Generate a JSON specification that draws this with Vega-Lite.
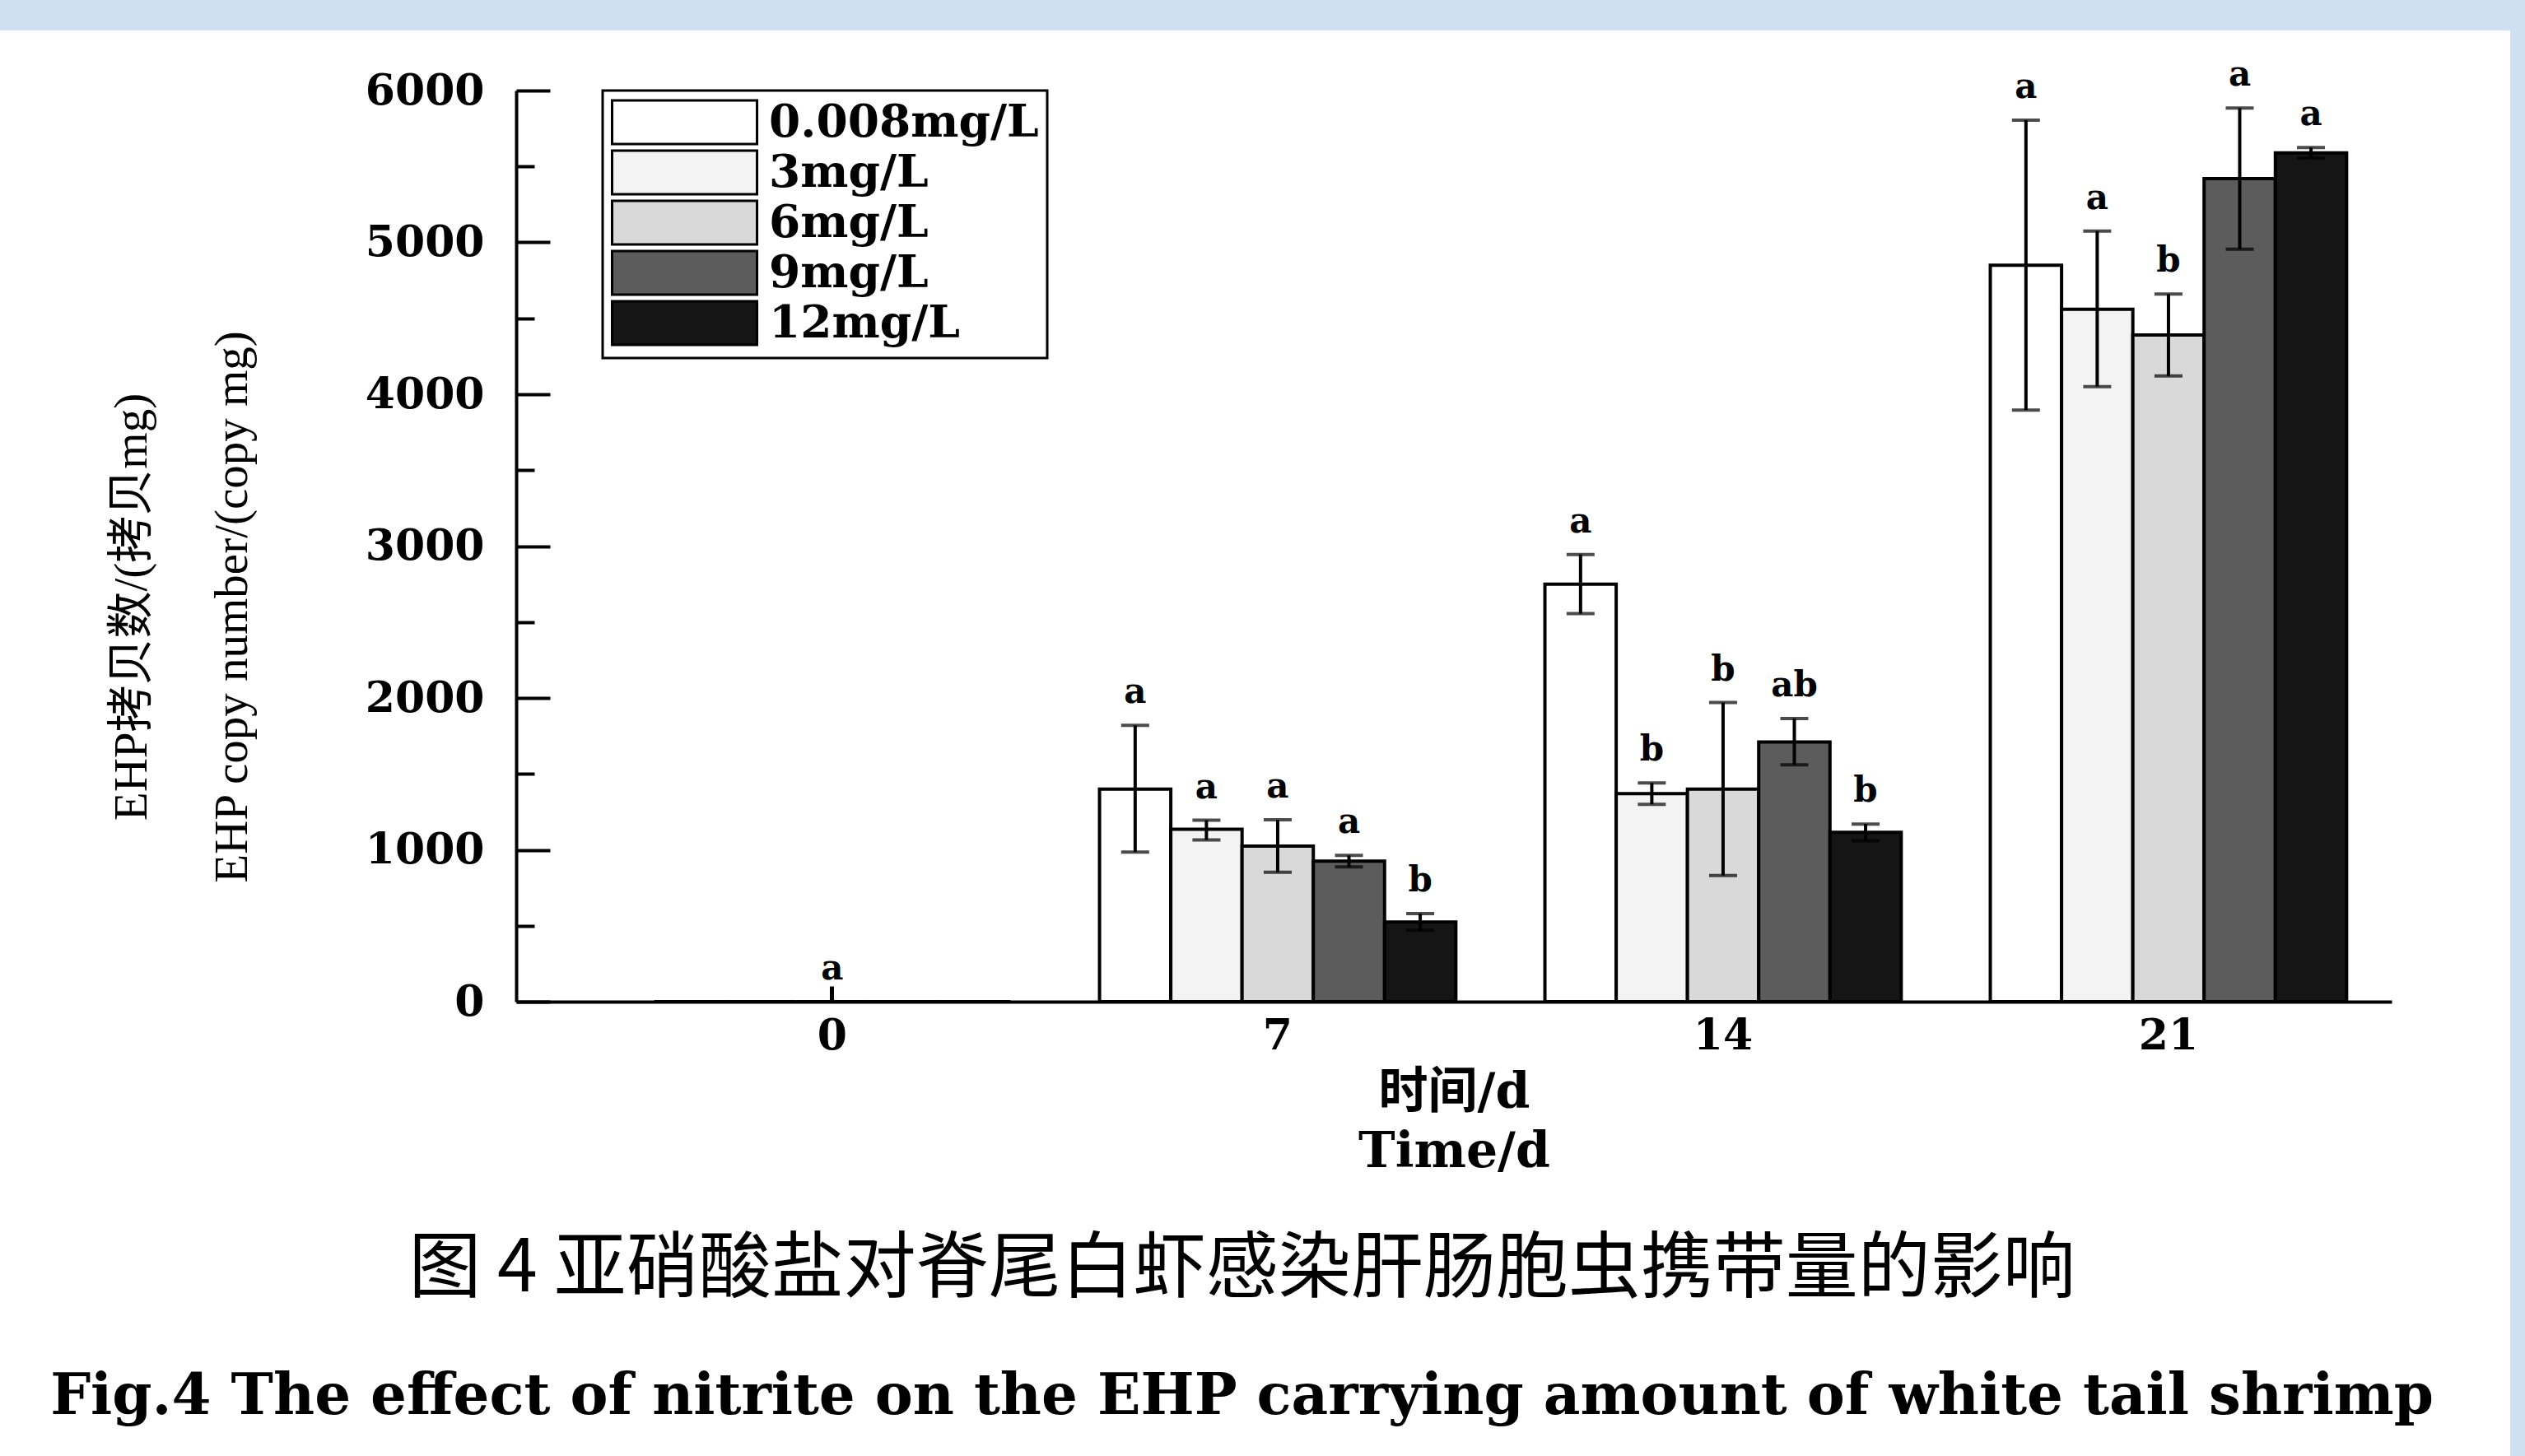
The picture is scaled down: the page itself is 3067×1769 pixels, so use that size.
{
  "$schema": "https://vega.github.io/schema/vega-lite/v6.json",
  "autosize": "none",
  "width": 3049,
  "height": 1732,
  "padding": {"top": 37, "left": 0, "right": 18, "bottom": 0},
  "background": "#cee0f1",
  "config": {
    "view": {"fill": "#ffffff", "stroke": null},
    "axis": {
      "grid": false,
      "domainColor": "#000000",
      "domainWidth": 4,
      "tickColor": "#000000",
      "labelColor": "#000000",
      "titleColor": "#000000",
      "labelFont": "DejaVu Serif",
      "labelFontWeight": "bold",
      "labelFontSize": 52
    },
    "legend": {"strokeWidth": 3}
  },
  "title": {
    "text": "图 4 亚硝酸盐对脊尾白虾感染肝肠胞虫携带量的影响",
    "subtitle": "Fig.4 The effect of nitrite on the EHP carrying amount of white tail shrimp",
    "orient": "bottom",
    "anchor": "middle",
    "frame": "group",
    "offset": -270,
    "dx": -16,
    "font": "Noto Sans CJK SC",
    "fontSize": 88,
    "fontWeight": "normal",
    "color": "#000000",
    "subtitleFont": "DejaVu Serif",
    "subtitleFontWeight": "bold",
    "subtitleFontSize": 69,
    "subtitleColor": "#000000",
    "subtitlePadding": 76
  },
  "data": {
    "values": [
      {"day": 0, "conc": "0.008mg/L", "value": 0, "lower": 0, "upper": 0, "label": ""},
      {"day": 0, "conc": "3mg/L", "value": 0, "lower": 0, "upper": 0, "label": ""},
      {"day": 0, "conc": "6mg/L", "value": 0, "lower": 0, "upper": 0, "label": "a"},
      {"day": 0, "conc": "9mg/L", "value": 0, "lower": 0, "upper": 0, "label": ""},
      {"day": 0, "conc": "12mg/L", "value": 0, "lower": 0, "upper": 0, "label": ""},
      {"day": 7, "conc": "0.008mg/L", "value": 1400, "lower": 985, "upper": 1820, "label": "a"},
      {"day": 7, "conc": "3mg/L", "value": 1135, "lower": 1065, "upper": 1195, "label": "a"},
      {"day": 7, "conc": "6mg/L", "value": 1025, "lower": 852, "upper": 1198, "label": "a"},
      {"day": 7, "conc": "9mg/L", "value": 925, "lower": 887, "upper": 963, "label": "a"},
      {"day": 7, "conc": "12mg/L", "value": 525, "lower": 470, "upper": 580, "label": "b"},
      {"day": 14, "conc": "0.008mg/L", "value": 2750, "lower": 2555, "upper": 2945, "label": "a"},
      {"day": 14, "conc": "3mg/L", "value": 1370, "lower": 1300, "upper": 1440, "label": "b"},
      {"day": 14, "conc": "6mg/L", "value": 1400, "lower": 830, "upper": 1970, "label": "b"},
      {"day": 14, "conc": "9mg/L", "value": 1710, "lower": 1560, "upper": 1865, "label": "ab"},
      {"day": 14, "conc": "12mg/L", "value": 1115, "lower": 1060, "upper": 1170, "label": "b"},
      {"day": 21, "conc": "0.008mg/L", "value": 4850, "lower": 3895, "upper": 5805, "label": "a"},
      {"day": 21, "conc": "3mg/L", "value": 4560, "lower": 4050, "upper": 5075, "label": "a"},
      {"day": 21, "conc": "6mg/L", "value": 4390, "lower": 4120, "upper": 4660, "label": "b"},
      {"day": 21, "conc": "9mg/L", "value": 5420, "lower": 4955, "upper": 5885, "label": "a"},
      {"day": 21, "conc": "12mg/L", "value": 5590, "lower": 5555, "upper": 5625, "label": "a"}
    ]
  },
  "encoding": {
    "x": {
      "field": "day",
      "type": "ordinal",
      "sort": [0, 7, 14, 21],
      "scale": {"range": [627, 2905], "paddingInner": 0.2, "paddingOuter": 0.2054, "align": 0.754},
      "axis": {
        "orient": "bottom",
        "offset": -552,
        "labelAngle": 0,
        "bandPosition": 0.5,
        "tickSize": -19,
        "tickWidth": 5,
        "labelPadding": 35,
        "title": ["时间/d", "Time/d"],
        "titleFont": "DejaVu Serif, Noto Sans CJK SC",
        "titleFontWeight": "bold",
        "titleFontSize": 60,
        "titleLineHeight": 72,
        "titleBaseline": "top",
        "titleY": 81
      }
    },
    "xOffset": {
      "field": "conc",
      "type": "nominal",
      "sort": ["0.008mg/L", "3mg/L", "6mg/L", "9mg/L", "12mg/L"],
      "scale": {"paddingInner": 0, "paddingOuter": 0}
    }
  },
  "layer": [
    {
      "mark": {"type": "bar", "stroke": "#000000", "strokeWidth": 4},
      "encoding": {
        "y": {
          "field": "value",
          "type": "quantitative",
          "scale": {"domain": [0, 6000], "range": [1180, 73], "nice": false},
          "axis": {
            "orient": "left",
            "offset": -627,
            "values": [0, 500, 1000, 1500, 2000, 2500, 3000, 3500, 4000, 4500, 5000, 5500, 6000],
            "format": "d",
            "labelExpr": "datum.value % 1000 === 0 ? datum.label : ''",
            "tickSize": {"condition": {"test": "datum.value % 1000 === 0", "value": -41}, "value": -22},
            "tickWidth": 4,
            "labelPadding": 80,
            "title": ["EHP拷贝数/(拷贝mg)", "EHP copy number/(copy mg)"],
            "titleFont": "Liberation Serif, Noto Sans CJK SC",
            "titleFontWeight": "normal",
            "titleFontSize": 57,
            "titleLineHeight": 122,
            "titleAngle": -90,
            "titleAlign": "center",
            "titleBaseline": "bottom",
            "titleX": -438,
            "titleY": 700
          }
        },
        "fill": {
          "field": "conc",
          "type": "nominal",
          "sort": ["0.008mg/L", "3mg/L", "6mg/L", "9mg/L", "12mg/L"],
          "scale": {
            "domain": ["0.008mg/L", "3mg/L", "6mg/L", "9mg/L", "12mg/L"],
            "range": ["#ffffff", "#f3f3f3", "#d9d9d9", "#5c5c5c", "#151515"]
          },
          "legend": {
            "orient": "none",
            "legendX": 732,
            "legendY": 73,
            "title": null,
            "symbolType": "M-1,-0.98H5.52V0.98H-1Z",
            "symbolSize": 2916,
            "symbolStrokeColor": "#000000",
            "symbolStrokeWidth": 3,
            "symbolOpacity": 1,
            "labelFont": "DejaVu Serif",
            "labelFontWeight": "bold",
            "labelFontSize": 55,
            "labelColor": "#000000",
            "labelOffset": 135,
            "labelLimit": 0,
            "labelBaseline": "middle",
            "padding": 10,
            "rowPadding": -16,
            "strokeColor": "#000000",
            "fillColor": "#ffffff"
          }
        }
      }
    },
    {
      "transform": [{"filter": "datum.upper > 0"}],
      "mark": {"type": "rule", "color": "#000000", "strokeWidth": 4},
      "encoding": {
        "y": {"field": "lower", "type": "quantitative"},
        "y2": {"field": "upper"}
      }
    },
    {
      "transform": [{"filter": "datum.upper > 0"}],
      "mark": {"type": "tick", "color": "#000000", "size": 34, "thickness": 4, "orient": "horizontal"},
      "encoding": {
        "y": {"field": "lower", "type": "quantitative"}
      }
    },
    {
      "transform": [{"filter": "datum.upper > 0"}],
      "mark": {"type": "tick", "color": "#000000", "size": 34, "thickness": 4, "orient": "horizontal"},
      "encoding": {
        "y": {"field": "upper", "type": "quantitative"}
      }
    },
    {
      "mark": {"type": "text", "font": "DejaVu Serif", "fontWeight": "bold", "fontSize": 42, "color": "#000000", "baseline": "alphabetic", "align": "center", "dy": -27},
      "encoding": {
        "y": {"field": "upper", "type": "quantitative"},
        "text": {"field": "label"}
      }
    }
  ]
}
